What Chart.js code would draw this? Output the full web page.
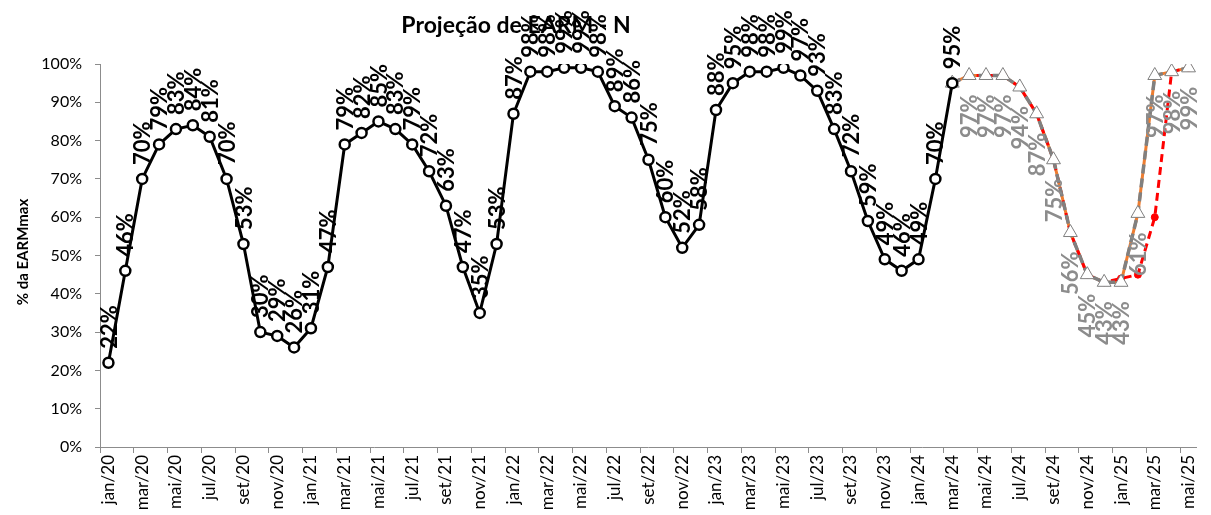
<!DOCTYPE html>
<html>
<head>
<meta charset="utf-8">
<script src="https://cdn.jsdelivr.net/npm/chart.js@4/dist/chart.umd.min.js"></script>
<style>
  html, body { margin: 0; padding: 0; background: #fff; }
  #wrap { width: 1211px; height: 515px; position: relative; }
</style>
</head>
<body>
<div id="wrap"><canvas id="chartEarm"></canvas></div>
<script>
(function () {
  "use strict";

  // categorias (mensal jan/20 .. mai/25)
  const meses = [
    "jan/20","fev/20","mar/20","abr/20","mai/20","jun/20","jul/20","ago/20","set/20","out/20","nov/20","dez/20",
    "jan/21","fev/21","mar/21","abr/21","mai/21","jun/21","jul/21","ago/21","set/21","out/21","nov/21","dez/21",
    "jan/22","fev/22","mar/22","abr/22","mai/22","jun/22","jul/22","ago/22","set/22","out/22","nov/22","dez/22",
    "jan/23","fev/23","mar/23","abr/23","mai/23","jun/23","jul/23","ago/23","set/23","out/23","nov/23","dez/23",
    "jan/24","fev/24","mar/24","abr/24","mai/24","jun/24","jul/24","ago/24","set/24","out/24","nov/24","dez/24",
    "jan/25","fev/25","mar/25","abr/25","mai/25"
  ];

  // verificado (% EARMmax), jan/20 .. mar/24
  const verificado = [
    22, 46, 70, 79, 83, 84, 81, 70, 53, 30, 29, 26,
    31, 47, 79, 82, 85, 83, 79, 72, 63, 47, 35, 53,
    87, 98, 98, 99, 99, 98, 89, 86, 75, 60, 52, 58,
    88, 95, 98, 98, 99, 97, 93, 83, 72, 59, 49, 46,
    49, 70, 95
  ];

  // projeções, mar/24 .. mai/25
  const projecaoCinza = [95, 97, 97, 97, 94, 87, 75, 56, 45, 43, 43, 61, 97, 98, 99];
  const projecaoLaranja = [95, 97, 97, 97, 94, 87, 75, 56, 45, 43, 43, 61, 97, 98, 99];
  const projecaoVermelha = [95, 97, 97, 97, 94, 87, 75, 56, 45, 43, 44, 45, 60, 98, 99];
  const inicioProjecao = 50; // mar/24

  const yTicks = [0, 10, 20, 30, 40, 50, 60, 70, 80, 90, 100];

  function pad(arr, start) {
    const out = new Array(meses.length).fill(null);
    arr.forEach((v, i) => { out[start + i] = v; });
    return out;
  }

  const FONT = "Lato, 'Open Sans', sans-serif";

  // rotulos rotacionados e titulos
  const rotulos = {
    id: "rotulos",
    beforeDatasetsDraw(chart) {
      const ctx = chart.ctx;
      ctx.save();
      ctx.fillStyle = "#000";
      ctx.textAlign = "center";
      ctx.textBaseline = "middle";
      ctx.font = "bold 23px " + FONT;
      ctx.fillText("Projeção de EARM - N", 516, 26);
      ctx.translate(23, 252);
      ctx.rotate(-Math.PI / 2);
      ctx.font = "bold 15px " + FONT;
      ctx.fillText("% da EARMmax", 0, 0);
      ctx.restore();
    },
    afterDatasetsDraw(chart) {
      const ctx = chart.ctx;
      ctx.save();
      ctx.font = "bold 22px " + FONT;
      ctx.textBaseline = "middle";
      chart.data.datasets.forEach((ds, i) => {
        if (!ds.rotulo) return;
        const meta = chart.getDatasetMeta(i);
        meta.data.forEach((pt, j) => {
          const v = ds.data[j];
          if (v == null || j < ds.rotuloDesde) return;
          ctx.save();
          ctx.translate(pt.x, pt.y);
          ctx.rotate(-Math.PI / 2);
          ctx.fillStyle = ds.rotuloCor;
          if (ds.rotulo === "acima") {
            ctx.textAlign = "left";
            ctx.fillText(v + "%", 14, 1);
          } else {
            ctx.textAlign = "right";
            ctx.fillText(v + "%", -19, 1);
          }
          ctx.restore();
        });
      });
      ctx.restore();
    }
  };

  new Chart(document.getElementById("chartEarm"), {
    type: "line",
    data: {
      labels: meses,
      datasets: [
        {
          label: "Verificado",
          data: pad(verificado, 0),
          borderColor: "#000",
          borderWidth: 3,
          pointStyle: "circle",
          pointRadius: 5,
          pointBorderWidth: 2.5,
          pointBackgroundColor: "#fff",
          pointBorderColor: "#000",
          tension: 0,
          order: 0,
          rotulo: "acima",
          rotuloCor: "#000",
          rotuloDesde: 0,
        },
        {
          label: "Projeção cinza",
          data: pad(projecaoCinza, inicioProjecao),
          borderColor: "#808080",
          borderWidth: 3.5,
          borderDash: [9, 5],
          pointStyle: "triangle",
          pointRadius: 8,
          pointBorderWidth: 1,
          pointBackgroundColor: "#fff",
          pointBorderColor: "#7f7f7f",
          tension: 0,
          order: 1,
          rotulo: "abaixo",
          rotuloCor: "#8c8c8c",
          rotuloDesde: inicioProjecao + 1,
        },
        {
          label: "Projeção vermelha",
          data: pad(projecaoVermelha, inicioProjecao),
          borderColor: "#ff0000",
          borderWidth: 3,
          borderDash: [8, 5],
          pointStyle: "circle",
          pointRadius: 3.5,
          pointBorderWidth: 1,
          pointBackgroundColor: "#ff0000",
          pointBorderColor: "#ff0000",
          tension: 0,
          order: 2,
        },
        {
          label: "Projeção laranja",
          data: pad(projecaoLaranja, inicioProjecao),
          borderColor: "#ed7d31",
          borderWidth: 3,
          pointRadius: 0,
          tension: 0,
          order: 3,
        },
      ],
    },
    options: {
      responsive: true,
      maintainAspectRatio: false,
      animation: false,
      layout: { padding: { left: 0, right: 3, top: 64, bottom: 0 } },
      plugins: {
        legend: { display: false },
        title: { display: false },
        tooltip: { enabled: false },
      },
      scales: {
        x: {
          type: "category",
          offset: true,
          grid: {
            offset: true,
            drawOnChartArea: false,
            drawTicks: true,
            tickLength: 6,
            color: (c) => (c.index % 2 === 0 ? "#8c8c8c" : "rgba(0,0,0,0)"),
          },
          border: { color: "#8c8c8c", width: 1 },
          ticks: {
            autoSkip: false,
            minRotation: 90,
            maxRotation: 90,
            padding: 2,
            color: "#000",
            font: { family: FONT, size: 17 },
            callback: function (val, idx) { return idx % 2 === 0 ? this.getLabelForValue(val) : ""; },
          },
          afterFit: (s) => { s.height = 68; },
        },
        y: {
          min: 0,
          max: 100,
          afterBuildTicks: (s) => { s.ticks = yTicks.map(v => ({ value: v })); },
          grid: {
            drawOnChartArea: false,
            drawTicks: true,
            tickLength: 5,
            color: "#8c8c8c",
          },
          border: { color: "#8c8c8c", width: 1 },
          ticks: {
            padding: 13,
            color: "#000",
            font: { family: FONT, size: 16 },
            callback: (v) => v + "%",
          },
          afterFit: (s) => { s.width = 100; },
        },
      },
    },
    plugins: [rotulos],
  });
})();
</script>
</body>
</html>
